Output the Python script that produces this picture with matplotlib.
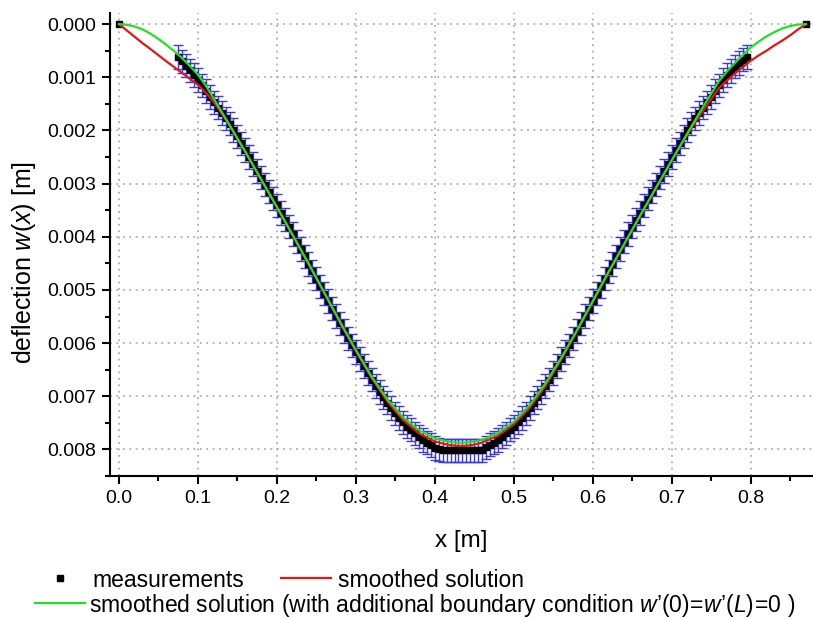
import numpy as np
import matplotlib
matplotlib.use("Agg")
import matplotlib.pyplot as plt
from matplotlib.ticker import MultipleLocator, FormatStrFormatter
from matplotlib.lines import Line2D

plt.rcParams['font.family'] = ['Liberation Sans', 'DejaVu Sans']
plt.rcParams['mathtext.fontset'] = 'custom'
plt.rcParams['mathtext.rm'] = 'Liberation Sans'
plt.rcParams['mathtext.it'] = 'Liberation Sans:italic'

# measured deflection (mm), sampled every 5 mm from x = 0.075 m to 0.795 m
meas_x = np.round(np.arange(0.075, 0.7951, 0.005), 3)
meas_w_mm = [
    0.62, 0.70, 0.78, 0.87, 0.96, 1.05, 1.15, 1.26, 1.37, 1.47,
    1.57, 1.67, 1.77, 1.87, 1.99, 2.11, 2.24, 2.37, 2.50, 2.63,
    2.76, 2.89, 3.02, 3.15, 3.28, 3.41, 3.55, 3.68, 3.81, 3.95,
    4.09, 4.23, 4.37, 4.51, 4.65, 4.79, 4.93, 5.07, 5.21, 5.35,
    5.49, 5.63, 5.77, 5.91, 6.04, 6.17, 6.30, 6.43, 6.56, 6.69,
    6.81, 6.92, 7.02, 7.12, 7.22, 7.32, 7.41, 7.49, 7.57, 7.63,
    7.70, 7.76, 7.82, 7.87, 7.92, 7.97, 8.00,
    8.02, 8.02, 8.02, 8.02, 8.02, 8.02, 8.02, 8.02, 8.02, 8.02, 8.02,
    7.96, 7.91, 7.87, 7.82, 7.76, 7.70, 7.63, 7.57, 7.49, 7.41,
    7.32, 7.22, 7.12, 7.02, 6.92, 6.81, 6.69, 6.56, 6.43, 6.30,
    6.17, 6.04, 5.91, 5.77, 5.63, 5.49, 5.35, 5.21, 5.07, 4.93,
    4.79, 4.65, 4.51, 4.37, 4.23, 4.09, 3.95, 3.81, 3.68, 3.55,
    3.41, 3.28, 3.15, 3.02, 2.89, 2.76, 2.63, 2.50, 2.37, 2.24,
    2.11, 1.99, 1.87, 1.77, 1.67, 1.57, 1.47, 1.37, 1.26, 1.15,
    1.05, 0.96, 0.88, 0.80, 0.73, 0.67, 0.62,
]
meas_err_mm = 0.22

# supports (no error bars)
support_x = [0.0, 0.87]
support_w_mm = [0.0, 0.0]

# smoothed solutions (mm)
curve_x = [0.00, 0.01, 0.02, 0.03, 0.04, 0.05, 0.06, 0.07, 0.08, 0.09, 0.10, 0.11, 0.12,
           0.14, 0.16, 0.18, 0.20, 0.22, 0.24, 0.26, 0.28, 0.30, 0.32, 0.34, 0.36, 0.38, 0.40,
           0.41, 0.42, 0.43, 0.44, 0.45, 0.46,
           0.48, 0.50, 0.52, 0.54, 0.56, 0.58, 0.60, 0.62, 0.64, 0.66, 0.68, 0.70, 0.72, 0.74, 0.76,
           0.77, 0.78, 0.79, 0.80, 0.81, 0.82, 0.83, 0.84, 0.85, 0.86, 0.87]
red_w_mm = [0.00, 0.12, 0.24, 0.36, 0.47, 0.585, 0.70, 0.81, 0.92, 1.03, 1.14, 1.29, 1.46,
            1.90, 2.40, 2.92, 3.44, 3.97, 4.51, 5.06, 5.62, 6.15, 6.66, 7.10, 7.45, 7.70, 7.85,
            7.89, 7.92, 7.935, 7.93, 7.91, 7.87,
            7.74, 7.53, 7.22, 6.81, 6.31, 5.78, 5.23, 4.68, 4.14, 3.61, 3.09, 2.57, 2.07, 1.62, 1.20,
            1.06, 0.93, 0.81, 0.69, 0.59, 0.50, 0.40, 0.31, 0.21, 0.10, 0.00]
green_w_mm = [0.00, 0.011, 0.045, 0.10, 0.18, 0.28, 0.39, 0.51, 0.64, 0.79, 0.95, 1.16, 1.40,
              1.90, 2.40, 2.92, 3.44, 3.97, 4.50, 5.05, 5.60, 6.13, 6.63, 7.06, 7.40, 7.64, 7.79,
              7.83, 7.86, 7.875, 7.87, 7.85, 7.82,
              7.69, 7.48, 7.17, 6.76, 6.28, 5.76, 5.21, 4.66, 4.13, 3.60, 3.08, 2.56, 2.05, 1.55, 1.07,
              0.89, 0.73, 0.58, 0.44, 0.33, 0.23, 0.15, 0.08, 0.035, 0.008, 0.00]

mm = 1e-3
meas_w = np.array(meas_w_mm) * mm
red_w = np.array(red_w_mm) * mm
green_w = np.array(green_w_mm) * mm

RED = '#e01818'
GREEN = '#22e022'

fig = plt.figure(figsize=(8.13, 6.19), dpi=100)
ax = fig.add_axes([0.1353, 0.231, 0.8647, 0.748])

ax.errorbar(meas_x, meas_w, yerr=meas_err_mm * mm, fmt='none',
            ecolor='#3c3cdc', elinewidth=1.0, capsize=3.4, capthick=1.0, zorder=2)
ax.plot(meas_x, meas_w, 's', color='black', markersize=4.5, zorder=3)
ax.plot(support_x, np.array(support_w_mm) * mm, 's', color='black',
        markersize=4.5, zorder=3)
ax.plot(curve_x, red_w, color=RED, lw=1.6, zorder=4)
ax.plot(curve_x, green_w, color=GREEN, lw=1.6, zorder=5)

ax.set_xlim(-0.0114, 0.879)
ax.set_ylim(0.0085, -0.00021)

ax.xaxis.set_major_locator(MultipleLocator(0.1))
ax.xaxis.set_minor_locator(MultipleLocator(0.05))
ax.xaxis.set_major_formatter(FormatStrFormatter('%.1f'))
ax.yaxis.set_major_locator(MultipleLocator(0.001))
ax.yaxis.set_minor_locator(MultipleLocator(0.0005))
ax.yaxis.set_major_formatter(FormatStrFormatter('%.3f'))

for s in ['top', 'right']:
    ax.spines[s].set_visible(False)
for s in ['left', 'bottom']:
    ax.spines[s].set_linewidth(1.5)

ax.tick_params(which='major', direction='out', length=6, width=1.5,
               labelsize=14, pad=4)
ax.tick_params(which='minor', direction='out', length=3.5, width=1.5)
ax.grid(True, which='major', color='#a0a0a0', linestyle=(0, (1.2, 3)), lw=1.1)
ax.set_axisbelow(True)

ax.set_xlabel('x [m]', fontsize=17.5, labelpad=16.5)
ax.set_ylabel(r'deflection $\mathit{w(x)}$ [m]', fontsize=18)
ax.yaxis.set_label_coords(-0.102, 0.462)

h_meas = Line2D([], [], marker='s', color='black', linestyle='none', markersize=4.5)
h_red = Line2D([], [], color=RED, lw=1.6)
h_green = Line2D([], [], color=GREEN, lw=1.6)

fig.legend([h_meas, h_red], ['measurements', 'smoothed solution'],
           loc='center left', bbox_to_anchor=(0.043, 0.063), ncol=2,
           frameon=False, fontsize=16.5, handlelength=2.2,
           handletextpad=0.3, columnspacing=1.6, borderpad=0, borderaxespad=0)
fig.legend([h_green],
           [r"smoothed solution (with additional boundary condition "
            r"$\mathit{w’(0)\!=\!w’(L)\!=\!0}$ )"],
           loc='center left', bbox_to_anchor=(0.043, 0.0226), frameon=False,
           fontsize=16.5, handlelength=2.2, handletextpad=0.15,
           borderpad=0, borderaxespad=0)

fig.savefig('out.png', dpi=100)
